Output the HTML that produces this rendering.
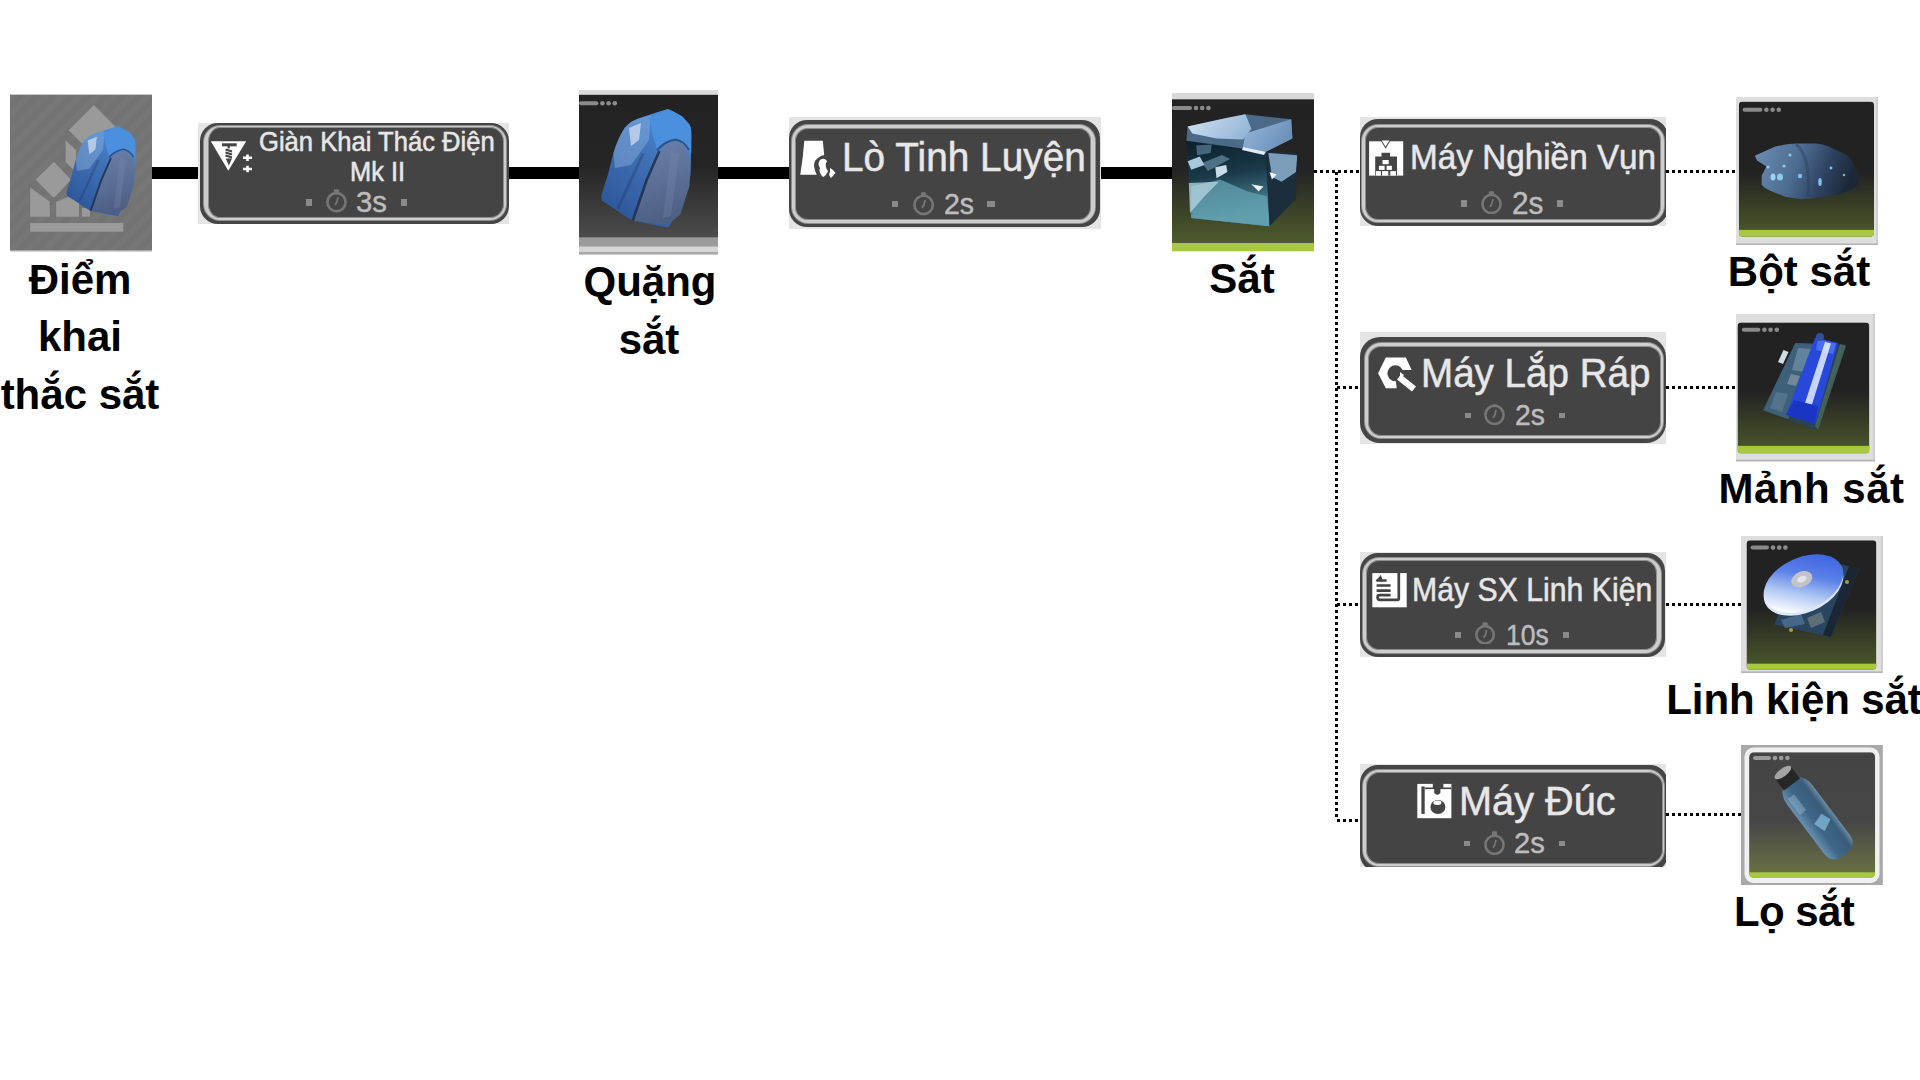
<!DOCTYPE html>
<html><head><meta charset="utf-8">
<style>
html,body{margin:0;padding:0;background:#fff;}
body{width:1920px;height:1080px;position:relative;overflow:hidden;font-family:"Liberation Sans",sans-serif;}
.a{position:absolute;}
.bl{position:absolute;background:#000;top:167px;height:12px;}
.dh{position:absolute;height:3px;background:repeating-linear-gradient(90deg,#000 0 3px,transparent 3px 6px);}
.dv{position:absolute;width:3px;background:repeating-linear-gradient(180deg,#000 0 3px,transparent 3px 6px);}
.lab{position:absolute;width:400px;text-align:center;font-weight:bold;font-size:42px;line-height:58px;color:#000;white-space:nowrap;}
</style></head><body>

<!-- thick black lines -->
<div class="bl" style="left:151px;width:48px"></div>
<div class="bl" style="left:508px;width:72px"></div>
<div class="bl" style="left:718px;width:72px"></div>
<div class="bl" style="left:1100px;width:73px"></div>

<!-- dotted lines -->
<div class="dh" style="left:1314px;top:170px;width:46px"></div>
<div class="dv" style="left:1335px;top:171.5px;height:647px"></div>
<div class="dh" style="left:1337px;top:386px;width:22px"></div>
<div class="dh" style="left:1337px;top:603px;width:22px"></div>
<div class="dh" style="left:1337px;top:819px;width:22px"></div>
<div class="dh" style="left:1666px;top:170px;width:70px"></div>
<div class="dh" style="left:1666px;top:386px;width:70px"></div>
<div class="dh" style="left:1666px;top:603px;width:75px"></div>
<div class="dh" style="left:1666px;top:813px;width:75px"></div>

<!-- labels -->
<div class="lab" style="left:-120px;top:251px">Điểm</div>
<div class="lab" style="left:-120px;top:308px">khai</div>
<div class="lab" style="left:-120px;top:366px">thắc sắt</div>
<div class="lab" style="left:450px;top:253px">Quặng</div>
<div class="lab" style="left:449px;top:311px">sắt</div>
<div class="lab" style="left:1042px;top:250px">Sắt</div>
<div class="lab" style="left:1599px;top:243px">Bột sắt</div>
<div class="lab" style="left:1611.5px;top:460px;letter-spacing:0.5px">Mảnh sắt</div>
<div class="lab" style="left:1594px;top:671px;letter-spacing:-0.1px">Linh kiện sắt</div>
<div class="lab" style="left:1594px;top:883px;letter-spacing:-0.6px">Lọ sắt</div>

<div class="a" style="left:198px;top:122.9px;width:311.00px;height:101.10px;background:#e4e4e4;overflow:hidden"><div class="a" style="left:1.60px;top:0.20px;width:309.00px;height:100.80px;background:#454545;border-radius:18px"></div><div class="a" style="left:6.40px;top:2.80px;width:301.50px;height:94.60px;box-sizing:border-box;border-style:solid;border-color:#cdcdcd;border-width:1.60px 2.20px 2.30px 4.20px;border-radius:16px;background:#444;box-shadow:0 0 0 1px #8e8e8e, inset 0 0 0 1px #8e8e8e"></div></div>
<div class="a" style="left:258.80px;top:126.43px;font-size:27.04px;line-height:32px;color:#e8e8e8;white-space:nowrap;font-weight:normal;transform:scaleX(0.9470);transform-origin:0 0;-webkit-text-stroke:0.4px #e0e0e0;text-shadow:0 0 1px rgba(220,220,220,0.5)">Giàn Khai Thác Điện</div>
<div class="a" style="left:349.80px;top:155.53px;font-size:26.74px;line-height:32px;color:#e8e8e8;white-space:nowrap;font-weight:normal;transform:scaleX(0.9499);transform-origin:0 0;-webkit-text-stroke:0.4px #e0e0e0;text-shadow:0 0 1px rgba(220,220,220,0.5)">Mk II</div>
<div class="a" style="left:305.5px;top:198.5px;width:6.2px;height:7.8px;background:#8a8a8a"></div>
<svg class="a" style="left:325.8px;top:189.4px" width="21.0" height="23.7" viewBox="0 0 21.00 23.70"><circle cx="10.50" cy="13.20" r="9.10" fill="none" stroke="#767676" stroke-width="2.6"/><rect x="7.90" y="0.3" width="5.2" height="4.10" rx="1.2" fill="#767676"/><path d="M9.00 16.20 Q11.50 13.20 12.00 8.20" stroke="#767676" stroke-width="1.8" fill="none"/></svg>
<div class="a" style="left:355.90px;top:184.67px;font-size:29.22px;line-height:35px;color:#bdbdbd;white-space:nowrap;font-weight:normal;transform:scaleX(1.0025);transform-origin:0 0;-webkit-text-stroke:0.3px #b8b8b8;text-shadow:0 0 1px rgba(180,180,180,0.5)">3s</div>
<div class="a" style="left:400.5px;top:198.5px;width:6.4px;height:7.8px;background:#8a8a8a"></div>
<svg class="a" style="left:209px;top:139px" width="46" height="36" viewBox="0 0 46 36"><path d="M1.8 2.2 H37.2 L19.3 31.8 Z" fill="#fff"/><rect x="13" y="4.3" width="14.7" height="3" fill="#444"/><path d="M19.7 7 v2.5 M16.5 10.5 L23 12.5 M16.5 13.5 L23 15.5 M16.5 16.5 L23 18.5" stroke="#444" stroke-width="2.2" fill="none"/><path d="M16.8 19.5 H23 L19.8 26.5 Z" fill="#444"/><path d="M34 18.7 h9 M38.5 15.5 v6.4 M34 30 h9 M38.5 26.8 v6.4" stroke="#fff" stroke-width="2.6"/></svg>
<div class="a" style="left:789px;top:117px;width:312.00px;height:111.70px;background:#e4e4e4;overflow:hidden"><div class="a" style="left:0.00px;top:3.00px;width:310.70px;height:107.20px;background:#454545;border-radius:18px"></div><div class="a" style="left:3.00px;top:8.10px;width:302.60px;height:97.50px;box-sizing:border-box;border-style:solid;border-color:#cdcdcd;border-width:3.00px 4.40px 3.00px 3.10px;border-radius:16px;background:#444;box-shadow:0 0 0 1px #8e8e8e, inset 0 0 0 1px #8e8e8e"></div></div>
<div class="a" style="left:842.00px;top:132.94px;font-size:41.13px;line-height:49px;color:#e8e8e8;white-space:nowrap;font-weight:normal;transform:scaleX(0.9438);transform-origin:0 0;-webkit-text-stroke:0.4px #e0e0e0;text-shadow:0 0 1px rgba(220,220,220,0.5)">Lò Tinh Luyện</div>
<div class="a" style="left:891.6px;top:201.0px;width:6.2px;height:5.8px;background:#8a8a8a"></div>
<svg class="a" style="left:912.5px;top:192px" width="21.2" height="23.5" viewBox="0 0 21.20 23.50"><circle cx="10.60" cy="12.90" r="9.20" fill="none" stroke="#767676" stroke-width="2.6"/><rect x="8.00" y="0.3" width="5.2" height="3.70" rx="1.2" fill="#767676"/><path d="M9.10 15.90 Q11.60 12.90 12.10 7.90" stroke="#767676" stroke-width="1.8" fill="none"/></svg>
<div class="a" style="left:943.80px;top:185.57px;font-size:29.51px;line-height:35px;color:#bdbdbd;white-space:nowrap;font-weight:normal;transform:scaleX(0.9669);transform-origin:0 0;-webkit-text-stroke:0.3px #b8b8b8;text-shadow:0 0 1px rgba(180,180,180,0.5)">2s</div>
<div class="a" style="left:987.2px;top:201.0px;width:7.4px;height:5.8px;background:#8a8a8a"></div>
<svg class="a" style="left:798px;top:138px" width="42" height="42" viewBox="0 0 42 42"><path d="M6.3 2.8 H24.8 L26.2 17 Q21 18 17 23 Q14.5 28 18.8 36.8 H2.3 Q5 20 6.3 2.8 Z" fill="#fff"/><path d="M22 22 Q26 19 29 23 Q26 28 30 33 Q28 38 25 39 Q20 34 22 30 Q19 26 22 22 Z" fill="#fff"/><path d="M32 30 Q36 32 37.5 35 Q35 38 33 40 Q30 37 32 34 Z" fill="#fff"/></svg>
<div class="a" style="left:1360px;top:117px;width:306.00px;height:109.00px;background:#e4e4e4;overflow:hidden"><div class="a" style="left:0.00px;top:2.10px;width:308.00px;height:106.70px;background:#454545;border-radius:18px"></div><div class="a" style="left:2.30px;top:8.10px;width:301.40px;height:96.70px;box-sizing:border-box;border-style:solid;border-color:#cdcdcd;border-width:2.70px 3.80px 2.80px 3.00px;border-radius:16px;background:#444;box-shadow:0 0 0 1px #8e8e8e, inset 0 0 0 1px #8e8e8e"></div></div>
<div class="a" style="left:1410.00px;top:137.26px;font-size:34.16px;line-height:41px;color:#e8e8e8;white-space:nowrap;font-weight:normal;transform:scaleX(0.9747);transform-origin:0 0;-webkit-text-stroke:0.4px #e0e0e0;text-shadow:0 0 1px rgba(220,220,220,0.5)">Máy Nghiền Vụn</div>
<div class="a" style="left:1461.0px;top:200.0px;width:5.6px;height:7.0px;background:#8a8a8a"></div>
<svg class="a" style="left:1481px;top:190.5px" width="21.0" height="23.5" viewBox="0 0 21.00 23.50"><circle cx="10.50" cy="13.00" r="9.10" fill="none" stroke="#767676" stroke-width="2.6"/><rect x="7.90" y="0.3" width="5.2" height="3.90" rx="1.2" fill="#767676"/><path d="M9.00 16.00 Q11.50 13.00 12.00 8.00" stroke="#767676" stroke-width="1.8" fill="none"/></svg>
<div class="a" style="left:1511.80px;top:184.82px;font-size:30.52px;line-height:37px;color:#bdbdbd;white-space:nowrap;font-weight:normal;transform:scaleX(0.9751);transform-origin:0 0;-webkit-text-stroke:0.3px #b8b8b8;text-shadow:0 0 1px rgba(180,180,180,0.5)">2s</div>
<div class="a" style="left:1556.6px;top:200.0px;width:6.0px;height:7.0px;background:#8a8a8a"></div>
<svg class="a" style="left:1368px;top:139px" width="37" height="38" viewBox="0 0 37 38"><rect x="1.1" y="2.3" width="34.1" height="34.3" fill="#fff"/><path d="M12.2 0.6 H23 L17.6 9.8 Z" fill="#444"/><path d="M13.8 1.4 H21.4 L17.6 7.8 Z" fill="#fff"/><path d="M7.2 36.6 V17.6 H13.5 V13.7 H22 V17.6 H29 V36.6 Z" fill="#444"/><rect x="14.5" y="21" width="6.2" height="4.2" fill="#fff"/><rect x="10.9" y="26.8" width="5.7" height="4.1" fill="#fff"/><rect x="18.6" y="26.8" width="5.3" height="4.1" fill="#fff"/><rect x="7.9" y="32.1" width="5" height="4.5" fill="#fff"/><rect x="14.1" y="32.1" width="6.2" height="4.5" fill="#fff"/><rect x="22.3" y="32.1" width="5.7" height="4.5" fill="#fff"/></svg>
<div class="a" style="left:1360px;top:332px;width:306.00px;height:111.50px;background:#e4e4e4;overflow:hidden"><div class="a" style="left:0.20px;top:5.40px;width:305.40px;height:106.10px;background:#454545;border-radius:20px"></div><div class="a" style="left:4.50px;top:10.60px;width:298.70px;height:95.20px;box-sizing:border-box;border-style:solid;border-color:#cdcdcd;border-width:3.60px 2.50px 2.70px 3.80px;border-radius:16px;background:#444;box-shadow:0 0 0 1px #8e8e8e, inset 0 0 0 1px #8e8e8e"></div></div>
<div class="a" style="left:1421.00px;top:347.74px;font-size:41.43px;line-height:50px;color:#e8e8e8;white-space:nowrap;font-weight:normal;transform:scaleX(0.9315);transform-origin:0 0;-webkit-text-stroke:0.4px #e0e0e0;text-shadow:0 0 1px rgba(220,220,220,0.5)">Máy Lắp Ráp</div>
<div class="a" style="left:1465.0px;top:412.6px;width:5.6px;height:5.7px;background:#8a8a8a"></div>
<svg class="a" style="left:1484.3px;top:403.8px" width="21.0" height="21.4" viewBox="0 0 21.00 21.40"><circle cx="10.50" cy="10.90" r="9.10" fill="none" stroke="#767676" stroke-width="2.6"/><rect x="7.90" y="0.3" width="5.2" height="1.80" rx="1.2" fill="#767676"/><path d="M9.00 13.90 Q11.50 10.90 12.00 5.90" stroke="#767676" stroke-width="1.8" fill="none"/></svg>
<div class="a" style="left:1515.00px;top:397.12px;font-size:29.36px;line-height:35px;color:#bdbdbd;white-space:nowrap;font-weight:normal;transform:scaleX(0.9653);transform-origin:0 0;-webkit-text-stroke:0.3px #b8b8b8;text-shadow:0 0 1px rgba(180,180,180,0.5)">2s</div>
<div class="a" style="left:1558.6px;top:412.6px;width:6.1px;height:5.7px;background:#8a8a8a"></div>
<svg class="a" style="left:1376px;top:355px" width="44" height="38" viewBox="0 0 44 38"><path d="M2.1 18.3 L9.8 2.5 H29.8 L35.7 15 H24 L19.4 22 L20.7 33.3 H9.8 Z" fill="#fff"/><circle cx="19.4" cy="18.3" r="8" fill="#444"/><path d="M23 22 L38 34" stroke="#fff" stroke-width="6.5"/><path d="M24 17 L28 20 L24 24 Z" fill="#fff"/></svg>
<div class="a" style="left:1360px;top:552px;width:306.00px;height:105.00px;background:#e4e4e4;overflow:hidden"><div class="a" style="left:0.00px;top:0.70px;width:305.30px;height:104.00px;background:#454545;border-radius:18px"></div><div class="a" style="left:3.40px;top:5.90px;width:297.50px;height:94.70px;box-sizing:border-box;border-style:solid;border-color:#cdcdcd;border-width:2.70px 4.10px 3.30px 3.30px;border-radius:16px;background:#444;box-shadow:0 0 0 1px #8e8e8e, inset 0 0 0 1px #8e8e8e"></div></div>
<div class="a" style="left:1412.00px;top:570.01px;font-size:32.85px;line-height:39px;color:#e8e8e8;white-space:nowrap;font-weight:normal;transform:scaleX(0.9209);transform-origin:0 0;-webkit-text-stroke:0.4px #e0e0e0;text-shadow:0 0 1px rgba(220,220,220,0.5)">Máy SX Linh Kiện</div>
<div class="a" style="left:1455.3px;top:631.5px;width:5.7px;height:6.5px;background:#8a8a8a"></div>
<svg class="a" style="left:1475.4px;top:621.5px" width="20.2" height="22.9" viewBox="0 0 20.20 22.90"><circle cx="10.10" cy="12.80" r="8.70" fill="none" stroke="#767676" stroke-width="2.6"/><rect x="7.50" y="0.3" width="5.2" height="4.10" rx="1.2" fill="#767676"/><path d="M8.60 15.80 Q11.10 12.80 11.60 7.80" stroke="#767676" stroke-width="1.8" fill="none"/></svg>
<div class="a" style="left:1506.00px;top:615.87px;font-size:30.38px;line-height:36px;color:#bdbdbd;white-space:nowrap;font-weight:normal;transform:scaleX(0.8710);transform-origin:0 0;-webkit-text-stroke:0.3px #b8b8b8;text-shadow:0 0 1px rgba(180,180,180,0.5)">10s</div>
<div class="a" style="left:1563.0px;top:631.5px;width:6.0px;height:6.5px;background:#8a8a8a"></div>
<svg class="a" style="left:1371px;top:572px" width="36" height="36" viewBox="0 0 36 36"><rect x="1.3" y="1.1" width="34.4" height="34.2" fill="#fff"/><path d="M5.6 8.5 H15.6 M5.6 13.5 H19.6 M5.6 18.6 H19.6" stroke="#444" stroke-width="2.7"/><path d="M6 8.5 L9.5 4.5 L11 8.5 Z" fill="#444" stroke="#444" stroke-width="1.5"/><path d="M19.6 23.2 H8.5 Q6.6 23.2 6.6 25 V25.5 Q6.6 27.8 9 27.8 H26.6 Q27.8 27.8 27.8 26.6 V1" stroke="#444" stroke-width="2.7" fill="none"/></svg>
<div class="a" style="left:1360px;top:764px;width:306.00px;height:102.50px;background:#e4e4e4;overflow:hidden"><div class="a" style="left:0.00px;top:1.00px;width:308.00px;height:107.00px;background:#454545;border-radius:18px"></div><div class="a" style="left:3.10px;top:6.20px;width:300.90px;height:96.30px;box-sizing:border-box;border-style:solid;border-color:#cdcdcd;border-width:2.70px 1.10px 2.70px 3.00px;border-radius:16px;background:#444;box-shadow:0 0 0 1px #8e8e8e, inset 0 0 0 1px #8e8e8e"></div></div>
<div class="a" style="left:1458.80px;top:776.94px;font-size:41.13px;line-height:49px;color:#e8e8e8;white-space:nowrap;font-weight:normal;transform:scaleX(0.9650);transform-origin:0 0;-webkit-text-stroke:0.4px #e0e0e0;text-shadow:0 0 1px rgba(220,220,220,0.5)">Máy Đúc</div>
<div class="a" style="left:1464.0px;top:840.7px;width:5.8px;height:5.7px;background:#8a8a8a"></div>
<svg class="a" style="left:1484.3px;top:831px" width="21.0" height="24.3" viewBox="0 0 21.00 24.30"><circle cx="10.50" cy="13.80" r="9.10" fill="none" stroke="#767676" stroke-width="2.6"/><rect x="7.90" y="0.3" width="5.2" height="4.70" rx="1.2" fill="#767676"/><path d="M9.00 16.80 Q11.50 13.80 12.00 8.80" stroke="#767676" stroke-width="1.8" fill="none"/></svg>
<div class="a" style="left:1514.20px;top:825.97px;font-size:29.22px;line-height:35px;color:#bdbdbd;white-space:nowrap;font-weight:normal;transform:scaleX(0.9960);transform-origin:0 0;-webkit-text-stroke:0.3px #b8b8b8;text-shadow:0 0 1px rgba(180,180,180,0.5)">2s</div>
<div class="a" style="left:1559.4px;top:840.7px;width:6.0px;height:5.7px;background:#8a8a8a"></div>
<svg class="a" style="left:1416px;top:783px" width="37" height="37" viewBox="0 0 37 37"><rect x="1.3" y="0.9" width="34.1" height="34.3" fill="#fff"/><path d="M16.8 0 H27.4 V5 H24.4 V10 Q21.3 13.5 18.2 10 V5 H16.8 Z" fill="#444"/><path d="M9 5.3 H35.4" stroke="#444" stroke-width="1.6"/><rect x="5.4" y="3.5" width="3.3" height="27.4" fill="#444"/><ellipse cx="21.9" cy="24" rx="7.5" ry="7" fill="#444"/><ellipse cx="21.4" cy="19.7" rx="4" ry="2.2" fill="#fff"/></svg>

<svg class="a" style="left:10px;top:93.5px" width="142" height="158" viewBox="0 0 142 158"><defs><linearGradient id="oreg1" x1="0.8" y1="0" x2="0.2" y2="1"><stop offset="0" stop-color="#4a90e0"/><stop offset="0.45" stop-color="#3f70b4"/><stop offset="1" stop-color="#2c5498"/></linearGradient>
<linearGradient id="oref1" x1="0" y1="0" x2="0.2" y2="1"><stop offset="0" stop-color="#6b82ac"/><stop offset="1" stop-color="#4e5f84"/></linearGradient>
<pattern id="str1" width="12" height="12" patternUnits="userSpaceOnUse" patternTransform="rotate(45)"><rect width="12" height="12" fill="#737373"/><rect width="6" height="12" fill="#767676"/></pattern></defs>
<rect x="0" y="0" width="142" height="157" fill="url(#str1)"/><rect x="0" y="0" width="142" height="1" fill="#c8c8c8"/>
<rect x="0" y="156.5" width="142" height="1.5" fill="#d8d8d8"/>
<g fill="#9a9a9a">
<rect x="20.2" y="129" width="93.1" height="8.7"/>
<path d="M20.2 93.6 L39.8 107.8 V122.7 H20.2 Z"/>
<path d="M46.1 122.7 V108 L58 103.1 L69 108 V122.7 Z"/>
<rect x="72" y="114" width="8" height="8.7"/>
<path d="M25.7 85.8 L43.8 67.7 L61.1 85.8 L43.8 103.9 Z"/>
<path d="M58.7 36.2 L83.9 11 L109 36.2 L83.9 61.4 Z"/>
<path d="M55.6 46.5 L66 56 L66 78 L55.6 68 Z"/>
</g>
<g transform="translate(39.4 17.8) scale(0.766 0.758)">
<path d="M88.7 19.1 Q101 23 110.6 34.5 Q113 41 112.5 46.7 L111.9 67.7 L111.4 85.6 Q108 98 104.1 108.3 L94.3 129.3 L89.5 137.4 Q80 136 71.6 134.2 L53 130.2 Q45 126 39.2 121.2 L23 110.7 L22.2 106.6 Q25 96 28.7 85.6 L34.4 62.9 Q39 48 45.7 37.8 Q52 31 58.7 28.8 L74.9 23.2 Z" fill="url(#oreg1)"/>
<path d="M45.7 37.8 Q52 31 58.7 28.8 L72 25 L70 50 L52 75 L36 78 L34.4 62.9 Q39 48 45.7 37.8 Z" fill="#8fb2de" opacity="0.45"/>
<path d="M50 38 L62 33 L60 50 L52 56 Z" fill="#e8f0fa" opacity="0.6"/>
<path d="M64.2 63.4 L38.8 119" stroke="#1e3a6a" stroke-width="3" opacity="0.35"/>
<path d="M70 27.5 L89.7 19.4 L103.6 26.4 L111.7 36.8 L112.3 63.4 L107.1 56.5 L96.6 49.5 L85.1 53 L78.1 60 L73.5 43.7 Z" fill="#4a90de"/>
<path d="M80.4 61.1 Q86 53 96.6 51.3 Q104 53 107.1 58.8 L111.7 70.4 L110.5 95.8 L101.3 124.8 L87.4 135.2 L53.8 130.6 L67.7 90 Z" fill="url(#oref1)"/>
<path d="M80.4 61.1 L67.7 90 L53.8 130.6" stroke="#1a2a48" stroke-width="2.6" fill="none" opacity="0.8"/>
<path d="M78 60 Q86 51 96.6 49.5 Q105 51 110 60" stroke="#1e3050" stroke-width="2" fill="none" opacity="0.6"/>
<path d="M92 62 L100 64 L92 126 L84 128 Z" fill="#8090b0" opacity="0.25"/>
</g></svg>
<svg class="a" style="left:579.4px;top:90.2px" width="139" height="165" viewBox="0 0 139 165"><defs><linearGradient id="oreg2" x1="0.8" y1="0" x2="0.2" y2="1"><stop offset="0" stop-color="#4a90e0"/><stop offset="0.45" stop-color="#3f70b4"/><stop offset="1" stop-color="#2c5498"/></linearGradient>
<linearGradient id="oref2" x1="0" y1="0" x2="0.2" y2="1"><stop offset="0" stop-color="#6b82ac"/><stop offset="1" stop-color="#4e5f84"/></linearGradient>
<linearGradient id="bg2" x1="0" y1="0" x2="0" y2="1"><stop offset="0" stop-color="#222"/><stop offset="0.5" stop-color="#252525"/><stop offset="1" stop-color="#4c4c4c"/></linearGradient></defs>
<rect x="0" y="0" width="139" height="5" fill="#dadada"/>
<rect x="0" y="4.8" width="139" height="143" fill="url(#bg2)"/>
<rect x="0" y="147.6" width="139" height="9.2" fill="#9b9b9b"/>
<rect x="0" y="156.8" width="139" height="5" fill="#d6d6d6"/>
<rect x="0" y="161.8" width="139" height="2.8" fill="#a8a8a8"/>
<rect x="0" y="11.3" width="19.4" height="4" rx="2" fill="#8c8c8c"/><circle cx="23.4" cy="13.3" r="2.3" fill="#8c8c8c"/><circle cx="29.6" cy="13.3" r="2.3" fill="#8c8c8c"/><circle cx="35.8" cy="13.3" r="2.3" fill="#8c8c8c"/>
<path d="M88.7 19.1 Q101 23 110.6 34.5 Q113 41 112.5 46.7 L111.9 67.7 L111.4 85.6 Q108 98 104.1 108.3 L94.3 129.3 L89.5 137.4 Q80 136 71.6 134.2 L53 130.2 Q45 126 39.2 121.2 L23 110.7 L22.2 106.6 Q25 96 28.7 85.6 L34.4 62.9 Q39 48 45.7 37.8 Q52 31 58.7 28.8 L74.9 23.2 Z" fill="url(#oreg2)"/>
<path d="M45.7 37.8 Q52 31 58.7 28.8 L72 25 L70 50 L52 75 L36 78 L34.4 62.9 Q39 48 45.7 37.8 Z" fill="#8fb2de" opacity="0.45"/>
<path d="M50 38 L62 33 L60 50 L52 56 Z" fill="#e8f0fa" opacity="0.6"/>
<path d="M64.2 63.4 L38.8 119" stroke="#1e3a6a" stroke-width="3" opacity="0.35"/>
<path d="M70 27.5 L89.7 19.4 L103.6 26.4 L111.7 36.8 L112.3 63.4 L107.1 56.5 L96.6 49.5 L85.1 53 L78.1 60 L73.5 43.7 Z" fill="#4a90de"/>
<path d="M80.4 61.1 Q86 53 96.6 51.3 Q104 53 107.1 58.8 L111.7 70.4 L110.5 95.8 L101.3 124.8 L87.4 135.2 L53.8 130.6 L67.7 90 Z" fill="url(#oref2)"/>
<path d="M80.4 61.1 L67.7 90 L53.8 130.6" stroke="#1a2a48" stroke-width="2.6" fill="none" opacity="0.8"/>
<path d="M78 60 Q86 51 96.6 49.5 Q105 51 110 60" stroke="#1e3050" stroke-width="2" fill="none" opacity="0.6"/>
<path d="M92 62 L100 64 L92 126 L84 128 Z" fill="#8090b0" opacity="0.25"/>
</svg>
<svg class="a" style="left:1171.6px;top:93.3px" width="142" height="158.3" viewBox="0 0 142 158.3"><defs>
<linearGradient id="bg3" x1="0" y1="0" x2="0" y2="1"><stop offset="0" stop-color="#222"/><stop offset="0.5" stop-color="#242424"/><stop offset="1" stop-color="#4e5c2c"/></linearGradient>
<linearGradient id="cf3" x1="0" y1="0" x2="0.15" y2="1"><stop offset="0" stop-color="#0c1e2c"/><stop offset="0.45" stop-color="#1a3a4a"/><stop offset="1" stop-color="#5a98a8"/></linearGradient>
<linearGradient id="ct3" x1="0" y1="0" x2="1" y2="0.4"><stop offset="0" stop-color="#d4e4f2"/><stop offset="1" stop-color="#98b8da"/></linearGradient>
<linearGradient id="cr3" x1="0" y1="0" x2="1" y2="0.5"><stop offset="0" stop-color="#98b8da"/><stop offset="1" stop-color="#6a90b8"/></linearGradient>
</defs>
<rect x="0" y="0" width="142" height="6.5" fill="#d8d8d8"/>
<rect x="0" y="6.3" width="142" height="143.8" fill="url(#bg3)"/>
<rect x="0" y="150" width="142" height="8.3" fill="#a8c93f"/>
<rect x="0" y="13" width="20" height="4" rx="2" fill="#8a8a8a"/><circle cx="24.0" cy="15" r="2.3" fill="#8a8a8a"/><circle cx="30.2" cy="15" r="2.3" fill="#8a8a8a"/><circle cx="36.4" cy="15" r="2.3" fill="#8a8a8a"/>
<path d="M14.4 47.8 L71 55 L93.9 58.7 L97.5 133.3 L19.2 124.9 Z" fill="url(#cf3)"/>
<path d="M19.2 93.6 L48.1 86.4 L75.8 98.4 L95.1 103.2 L97.5 133.3 L19.2 124.9 Z" fill="#64a2b2" opacity="0.75"/>
<path d="M16.8 90 L46.9 88.8 L32.5 103.2 L18 120.1 Z" fill="#b8d4e0" opacity="0.75"/>
<path d="M15.6 68.3 L27.7 63.5 L32.5 71.9 L19.2 76.7 Z" fill="#a8c8dc"/>
<path d="M43.3 74.3 L54.2 71.9 L55.4 79.1 L44.5 85.2 Z" fill="#c8dcea"/>
<path d="M24.1 52.6 L39.7 51.4 L38.5 59.9 L25.3 62.3 Z" fill="#6a90a8" opacity="0.6"/>
<path d="M30 70 L50 62 L58 66 L36 78 Z" fill="#8ab0c8" opacity="0.5"/>
<path d="M93.9 58.7 L125.2 59.9 L124 105.6 L97.5 133.3 Z" fill="#1c2e3c"/>
<path d="M96.3 59.9 L125.2 62.3 L124 79.1 L109.6 88.8 L100 84 Z" fill="#8cb0d0" opacity="0.85"/>
<path d="M97.5 79.1 L104.7 81.5 L99.9 86.4 Z" fill="#eef4fa"/>
<path d="M15.6 33.4 L73.4 21.3 L119.2 26.2 L120.4 45.4 L93.9 58.7 L14.4 47.8 Z" fill="#4a6a88"/>
<path d="M15.6 33.4 L54.2 25 L73.4 21.3 L79.4 35.8 L71 46.6 L44.5 45.4 L20.4 40.6 Z" fill="url(#ct3)"/>
<path d="M73.4 40.6 L119.2 26.2 L120.4 45.4 L93.9 58.7 L71 53.9 Z" fill="url(#cr3)"/>
<path d="M71 53.9 L93.9 58.7 L92 62 L70 57 Z" fill="#e0ecf6"/>
<path d="M79.4 91.2 L91.5 93.6 L86.7 98.4 Z" fill="#eef4fa"/>
</svg>
<svg class="a" style="left:1736px;top:96.9px" width="142" height="148" viewBox="0 0 142 148"><defs><linearGradient id="bg4" x1="0" y1="0" x2="0" y2="1"><stop offset="0" stop-color="#222"/><stop offset="0.52" stop-color="#222"/><stop offset="1" stop-color="#4c5a2a"/></linearGradient>
<clipPath id="cl4"><rect x="2.8" y="4.6" width="135.2" height="135.2" rx="4"/></clipPath></defs>
<rect x="0" y="0" width="142" height="148" fill="#dedede"/><rect x="140" y="0" width="2" height="148" fill="#cfcfcf"/><rect x="0" y="146.4" width="142" height="1.6" fill="#b4b4b4"/>
<g clip-path="url(#cl4)"><rect x="2.8" y="4.6" width="135.2" height="135.2" fill="url(#bg4)"/>
<rect x="2.8" y="132.89999999999998" width="135.2" height="6.9" fill="#a8c93f"/></g><rect x="6.6" y="10.7" width="19.8" height="4" rx="2" fill="#8a8a8a"/><circle cx="30.4" cy="12.7" r="2.3" fill="#8a8a8a"/><circle cx="36.6" cy="12.7" r="2.3" fill="#8a8a8a"/><circle cx="42.8" cy="12.7" r="2.3" fill="#8a8a8a"/>
<defs><linearGradient id="pw4" x1="0" y1="0" x2="1" y2="0.2"><stop offset="0" stop-color="#6e8eb2"/><stop offset="0.45" stop-color="#4d6c92"/><stop offset="0.75" stop-color="#2e4260"/><stop offset="1" stop-color="#1c2838"/></linearGradient></defs>
<path d="M18.8 58.8 L28.7 54.2 L39.4 49.6 Q50 47 59.3 46.6 L80.7 46.6 Q90 48 96 51.2 L109.7 57.3 Q116 62 118.9 69.5 L123.5 81.7 Q122 88 118.9 90.9 L105.1 97 L88.3 100.1 L65.4 102.3 L50.1 100.1 L34.8 94 Q28 91 25.7 87.8 L25.7 78.7 L30.3 69.5 L21.1 63.4 Z" fill="url(#pw4)"/>
<path d="M60 47 Q75 60 72 100" stroke="#2a3c58" stroke-width="3" fill="none" opacity="0.4"/>
<ellipse cx="37" cy="80" rx="2.5" ry="3.5" fill="#9ad4f4"/><ellipse cx="44" cy="80" rx="3" ry="3.5" fill="#8ccaf0"/>
<circle cx="32" cy="70" r="1.6" fill="#8ccaf0"/><circle cx="48" cy="69" r="1.6" fill="#8ccaf0"/><circle cx="54" cy="58" r="1.5" fill="#8ccaf0"/>
<ellipse cx="84" cy="85" rx="1.8" ry="4" fill="#7ec0ec"/><circle cx="64" cy="79" r="2.2" fill="#7ec0ec"/><circle cx="95" cy="71" r="1.4" fill="#7ec0ec"/><circle cx="108" cy="78" r="1.3" fill="#6aaee0"/>
</svg>
<svg class="a" style="left:1736px;top:314.2px" width="139" height="147.4" viewBox="0 0 139 147.4"><defs><linearGradient id="bg5" x1="0" y1="0" x2="0" y2="1"><stop offset="0" stop-color="#222"/><stop offset="0.52" stop-color="#222"/><stop offset="1" stop-color="#4c5a2a"/></linearGradient>
<clipPath id="cl5"><rect x="1.5" y="8.4" width="131.9" height="131.1" rx="4"/></clipPath></defs>
<rect x="0" y="0" width="139" height="147.4" fill="#dedede"/><rect x="137" y="0" width="2" height="147.4" fill="#cfcfcf"/><rect x="0" y="145.8" width="139" height="1.6" fill="#b4b4b4"/>
<g clip-path="url(#cl5)"><rect x="1.5" y="8.4" width="131.9" height="131.1" fill="url(#bg5)"/>
<rect x="1.5" y="131.9" width="131.9" height="7.6" fill="#a8c93f"/></g><rect x="5.8" y="13.7" width="18.6" height="4" rx="2" fill="#8a8a8a"/><circle cx="28.4" cy="15.7" r="2.3" fill="#8a8a8a"/><circle cx="34.6" cy="15.7" r="2.3" fill="#8a8a8a"/><circle cx="40.8" cy="15.7" r="2.3" fill="#8a8a8a"/>
<path d="M59.3 29 L109.7 30.5 L79.1 116.1 L27.2 96.2 Z" fill="#2a4252"/>
<path d="M59.3 29 L80 30 L52 105 L27.2 96.2 Z" fill="#3e6078"/>
<path d="M62 34 L76 35 L68 58 L56 56 Z" fill="#6a8ca4" opacity="0.8"/>
<path d="M40 78 L52 80 L46 98 L34 94 Z" fill="#5a7890" opacity="0.8"/>
<path d="M47.5 36 L52.5 38 L47 50 L42 48 Z" fill="#d0dce4"/>
<path d="M55 60 L64 62 L60 72 L51 70 Z" fill="#8a9aa4" opacity="0.7"/>
<path d="M79.1 23.6 L102 29 L79.1 110 L50.1 100.8 Z" fill="#2848dc"/>
<path d="M82 25 L100 29.5 L97 40 L80 36 Z" fill="#4a6cf0"/>
<path d="M89 28 L95 29.5 L73 100 L66 98 Z" fill="#e4eeff" opacity="0.85"/>
<path d="M58 86 L82 92 L79.1 110 L50.1 100.8 Z" fill="#1a34c4"/>
<path d="M104 30 L110 32 L82 116 L79 112 Z" fill="#4a6a60" opacity="0.8"/>
<circle cx="84" cy="23" r="4" fill="#3050a0"/>
</svg>
<svg class="a" style="left:1741px;top:536px" width="142" height="137" viewBox="0 0 142 137"><defs><linearGradient id="bg6" x1="0" y1="0" x2="0" y2="1"><stop offset="0" stop-color="#222"/><stop offset="0.52" stop-color="#222"/><stop offset="1" stop-color="#4c5a2a"/></linearGradient>
<clipPath id="cl6"><rect x="5.5" y="4.3" width="129.9" height="129.5" rx="4"/></clipPath></defs>
<rect x="0" y="0" width="142" height="137" fill="#dedede"/><rect x="140" y="0" width="2" height="137" fill="#cfcfcf"/><rect x="0" y="135.4" width="142" height="1.6" fill="#b4b4b4"/>
<g clip-path="url(#cl6)"><rect x="5.5" y="4.3" width="129.9" height="129.5" fill="url(#bg6)"/>
<rect x="5.5" y="127.70000000000002" width="129.9" height="6.1" fill="#a8c93f"/></g><rect x="9.6" y="9.6" width="18.4" height="4" rx="2" fill="#8a8a8a"/><circle cx="32.0" cy="11.6" r="2.3" fill="#8a8a8a"/><circle cx="38.2" cy="11.6" r="2.3" fill="#8a8a8a"/><circle cx="44.4" cy="11.6" r="2.3" fill="#8a8a8a"/>
<defs><linearGradient id="dk6" x1="0.1" y1="0.8" x2="0.9" y2="0.1"><stop offset="0" stop-color="#ffffff"/><stop offset="0.3" stop-color="#b0c8f4"/><stop offset="0.6" stop-color="#5a80e8"/><stop offset="1" stop-color="#3a62e0"/></linearGradient></defs>
<path d="M33.3 88.3 L61.6 19.6 L118.1 32.5 L89.8 101.3 Z" fill="#2a4560"/>
<path d="M108 30 L118.1 32.5 L89.8 101.3 L82 99 Z" fill="#1a2634"/>
<path d="M40 84 L60 78 L64 88 L44 92 Z" fill="#4e7090" opacity="0.8"/>
<path d="M66 82 L80 76 L84 86 L70 92 Z" fill="#6a7a80" opacity="0.8"/>
<circle cx="50" cy="94" r="2" fill="#a0a040"/><circle cx="106" cy="46" r="2" fill="#a0a040"/>
<ellipse cx="0" cy="0" rx="42" ry="26" transform="translate(62.5 50.5) rotate(-24)" fill="#dce8fa"/>
<ellipse cx="0" cy="0" rx="42" ry="26" transform="translate(62.5 47.5) rotate(-24)" fill="url(#dk6)"/>
<ellipse cx="0" cy="0" rx="11" ry="7.5" transform="translate(60.8 43.2) rotate(-24)" fill="#c4c4c8"/>
<ellipse cx="0" cy="0" rx="5" ry="3" transform="translate(60.8 43.2) rotate(-24)" fill="#e4e4e8"/>
</svg>
<svg class="a" style="left:1741px;top:744.9px" width="141.8" height="140.6" viewBox="0 0 141.8 140.6"><defs><linearGradient id="bg7" x1="0" y1="0" x2="0" y2="1"><stop offset="0" stop-color="#444"/><stop offset="0.55" stop-color="#464646"/><stop offset="1" stop-color="#6c7444"/></linearGradient>
<clipPath id="cl7"><rect x="8.1" y="7.2" width="126.1" height="125.8" rx="5"/></clipPath></defs>
<rect x="0" y="0" width="141.8" height="140.6" fill="#a8a8a8"/>
<rect x="3.5" y="2.5" width="135" height="135.5" rx="9" fill="#f0f0f0"/>
<g clip-path="url(#cl7)"><rect x="8.1" y="7.2" width="126.1" height="125.8" fill="url(#bg7)"/>
<rect x="8.1" y="127.3" width="126.1" height="5.7" fill="#a8c93f"/></g><rect x="12" y="11" width="18" height="4" rx="2" fill="#9a9a9a"/><circle cx="34.0" cy="13" r="2.3" fill="#9a9a9a"/><circle cx="40.2" cy="13" r="2.3" fill="#9a9a9a"/><circle cx="46.4" cy="13" r="2.3" fill="#9a9a9a"/>
<defs><linearGradient id="bt7" x1="0" y1="0" x2="1" y2="0"><stop offset="0" stop-color="#6a90b0"/><stop offset="0.35" stop-color="#3e6688"/><stop offset="0.8" stop-color="#3a5c7a"/><stop offset="1" stop-color="#6a8ca4"/></linearGradient></defs>
<g transform="translate(76.8 73.9) rotate(-37)">
<path d="M-9 -46 L9 -46 Q16 -40 16 -30 V32 Q16 45 0 45 Q-16 45 -16 32 V-30 Q-16 -40 -9 -46 Z" fill="url(#bt7)"/>
<rect x="-10" y="-58" width="20" height="15" fill="#262626"/>
<ellipse cx="0" cy="-58" rx="10" ry="4" fill="#a4a4a4"/>
<path d="M-6 2 L6 -2 L10 8 L-2 14 Z" fill="#80b4d4" opacity="0.8"/>
<rect x="-12" y="-34" width="8" height="20" fill="#9ab8d0" opacity="0.45"/>
</g>
</svg>

</body></html>
